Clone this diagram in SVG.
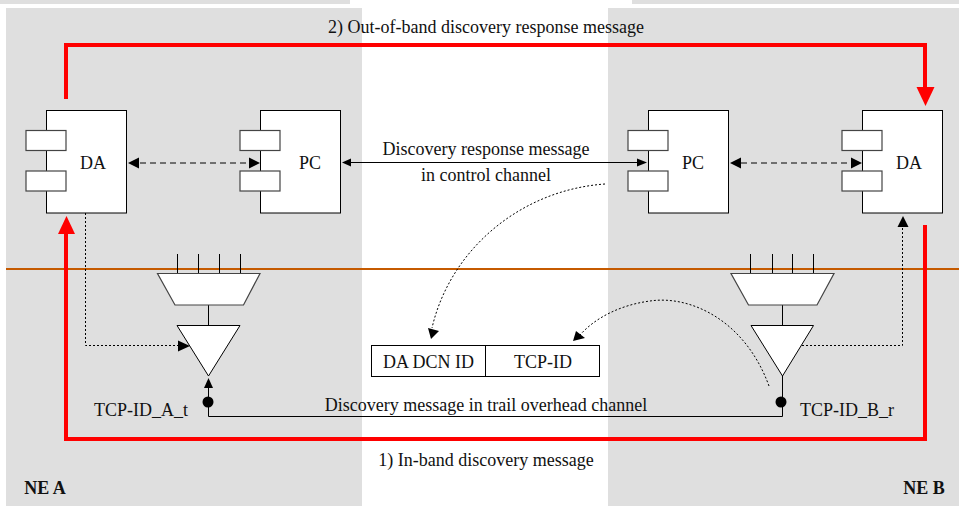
<svg xmlns="http://www.w3.org/2000/svg" width="959" height="506" viewBox="0 0 959 506">
<style>
.bg{fill:#dfdfdf}
.b{fill:#fff;stroke:#000;stroke-width:1}
.p{fill:#fff;stroke:#444;stroke-width:1.2}
.l{fill:none;stroke:#000;stroke-width:1}
.da{fill:none;stroke:#000;stroke-width:1;stroke-dasharray:6 4}
.do{fill:none;stroke:#000;stroke-width:1;stroke-dasharray:2 2}
.r{fill:none;stroke:#f00;stroke-width:4}
.h{fill:#000}.rh{fill:#f00}
text{font-family:"Liberation Serif","Times New Roman",serif;font-size:18px;fill:#111;text-anchor:middle}
.bold{font-weight:bold}
</style>
<rect width="959" height="506" fill="#fff"/>
<g id="background">
<rect class="bg" x="0" y="0" width="350" height="4"/>
<rect class="bg" x="632" y="0" width="327" height="4"/>
<rect class="bg" x="6" y="8" width="356" height="498"/>
<rect class="bg" x="608" y="8" width="351" height="498"/>
<rect x="6" y="268" width="953" height="2" fill="#c55a00"/>
</g>
<g id="da-a"><rect class="b" x="46.500" y="110.500" width="80" height="102.500"/><rect class="p" x="26" y="130.500" width="40" height="20"/><rect class="p" x="26" y="171" width="40" height="20"/><text x="93" y="168.500">DA</text></g>
<g id="pc-a"><rect class="b" x="260.500" y="110.500" width="80" height="102.500"/><rect class="p" x="240" y="130.500" width="40" height="20"/><rect class="p" x="240" y="171" width="40" height="20"/><text x="310" y="168.500">PC</text></g>
<g id="pc-b"><rect class="b" x="648.500" y="110.500" width="80" height="102.500"/><rect class="p" x="628" y="130.500" width="40" height="20"/><rect class="p" x="628" y="171" width="40" height="20"/><text x="693" y="168.500">PC</text></g>
<g id="da-b"><rect class="b" x="862.500" y="110.500" width="80" height="102.500"/><rect class="p" x="842" y="130.500" width="40" height="20"/><rect class="p" x="842" y="171" width="40" height="20"/><text x="909" y="168.500">DA</text></g>
<g id="mux-a"><path class="l" d="M177.500 254V273M198.500 254V273M219.500 254V273M240.500 254V273M208.500 305V325"/><polygon class="p" points="157.500,273.500 260,273.500 243.500,305 175,305"/><polygon class="b" points="177,325.500 240,325.500 208.500,376"/></g>
<g id="mux-b"><path class="l" d="M750.500 254V273M772.500 254V273M792.500 254V273M813.500 254V273M782.500 305V325"/><polygon class="p" points="731,273.500 834,273.500 817,305 748.500,305"/><polygon class="b" points="751,325.500 813.500,325.500 782.500,376"/></g>
<g id="frame"><rect class="b" x="371.500" y="345.500" width="228" height="31"/><path class="l" d="M485.500 345.500V376.500"/><text x="428.500" y="367.500">DA DCN ID</text><text x="543" y="367.500">TCP-ID</text></g>
<g id="connectors">
<path class="r" d="M66 99V45H925V90"/>
<polygon class="rh" points="916.500,87 934.500,87 925.500,106"/>
<path class="r" d="M925 225V439H66V232"/>
<polygon class="rh" points="58,234 75,234 66.500,216"/>
<path class="da" d="M140 163H250"/>
<polygon class="h" points="128,163 139,157.500 139,168.500"/><polygon class="h" points="260,163 249,157.500 249,168.500"/>
<path class="da" d="M741 163H852"/>
<polygon class="h" points="730,163 741,157.500 741,168.500"/><polygon class="h" points="862,163 851,157.500 851,168.500"/>
<path class="l" d="M350 162.500H640"/>
<polygon class="h" points="342,162.500 351,158.500 351,166.500"/><polygon class="h" points="647,162.500 637,158.500 637,166.500"/>
<path class="do" d="M85.500 213V345.500H178"/>
<polygon class="h" points="190,346 178,340.500 178,351.500"/>
<path class="do" d="M802 345.500H902.500V228"/>
<polygon class="h" points="903,216 897.500,227 908.500,227"/>
<path class="do" d="M605 184C520 190 450 250 432 328"/>
<polygon class="h" points="431,339 428,328 439,331"/>
<path class="do" d="M769 386C745 320 690 295 650 301C620 305 595 318 580 335"/>
<polygon class="h" points="573,341 576,331 585,338"/>
<path class="l" d="M208.500 386V416.500H782.500V376"/>
<polygon class="h" points="208.500,378 204,388 213,388"/>
<circle cx="208" cy="402" r="5.500" class="h"/>
<circle cx="781" cy="402" r="5.500" class="h"/>
</g>
<g id="labels">
<text x="486" y="33">2) Out-of-band discovery response message</text>
<text x="486" y="155">Discovery response message</text>
<text x="486" y="181">in control channel</text>
<text x="141" y="416">TCP-ID_A_t</text>
<text x="847" y="416">TCP-ID_B_r</text>
<text x="486" y="411">Discovery message in trail overhead channel</text>
<text x="486" y="466">1) In-band discovery message</text>
<text class="bold" x="45" y="494">NE A</text>
<text class="bold" x="924" y="494">NE B</text>
</g>
</svg>
